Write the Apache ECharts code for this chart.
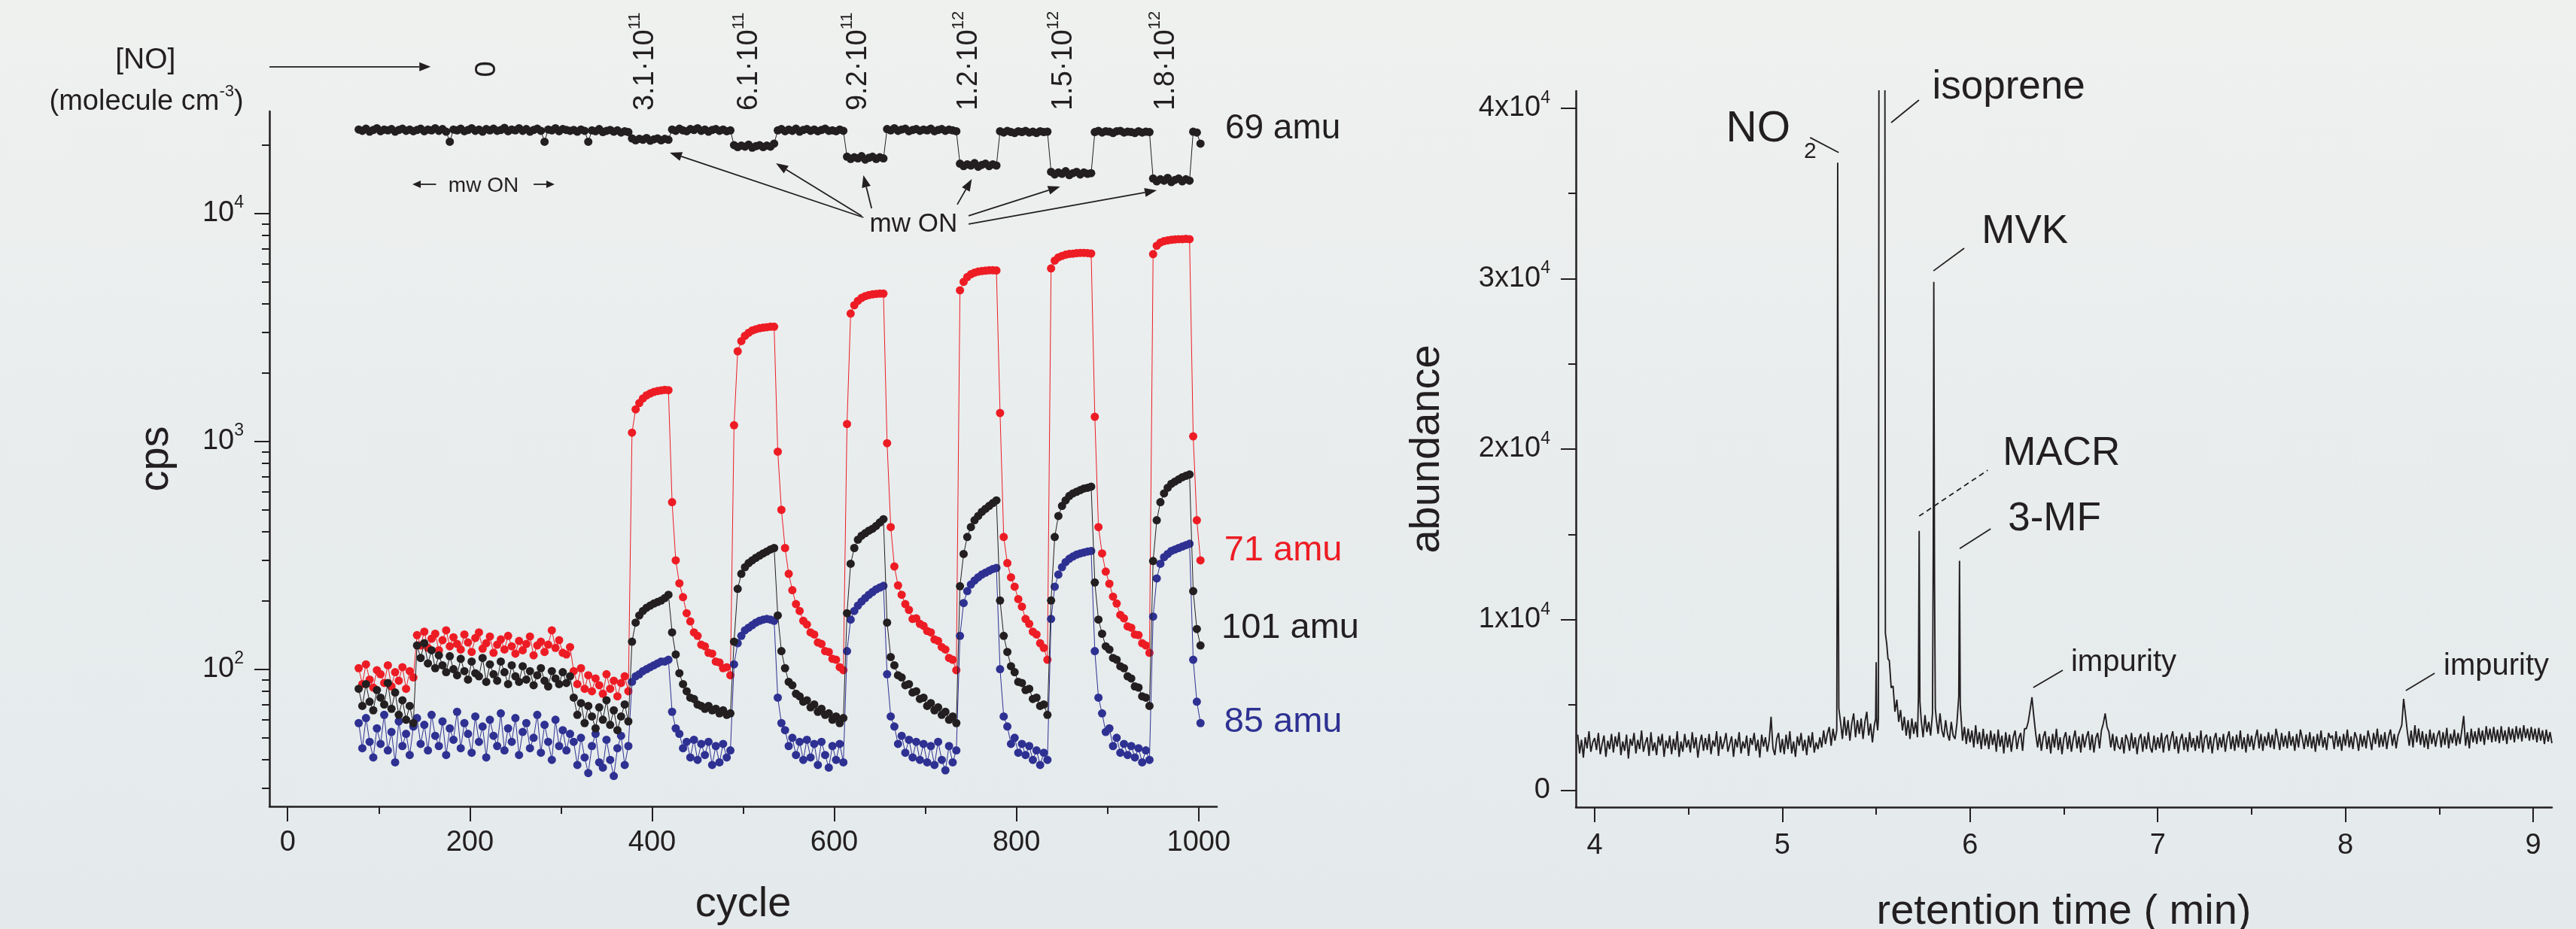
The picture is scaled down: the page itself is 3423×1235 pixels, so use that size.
<!DOCTYPE html>
<html>
<head>
<meta charset="utf-8">
<script src="https://cdn.jsdelivr.net/npm/echarts@6.0.0/dist/echarts.min.js"></script>
<style>
  html, body { margin: 0; padding: 0; }
  #chart { width: 3423px; height: 1235px; }
</style>
</head>
<body>
<div id="chart"></div>
<script>
// ---- left panel: PTR-MS signal vs cycle ----
var cycles = [
  78, 82, 86, 90, 94, 98, 102, 106, 110, 114, 118, 122, 126, 130, 134, 138,
  142, 146, 150, 154, 158, 162, 166, 170, 174, 178, 182, 186, 190, 194, 198, 202, 206, 210, 214, 218, 222,
  226, 230, 234, 238, 242, 246, 250, 254, 258, 262, 266, 270, 274, 278, 282, 286, 290, 294, 298, 302, 306, 310,
  314, 318, 322, 326, 330, 334, 338, 342, 346, 350, 354, 358, 362, 366, 370, 374,
  378, 382, 386, 390, 394, 398, 402, 406, 410, 414, 418,
  422, 426, 430, 434, 438, 442, 446, 450, 454, 458, 462, 466, 470, 474, 478, 482, 486,
  490, 494, 498, 502, 506, 510, 514, 518, 522, 526, 530, 534,
  538, 542, 546, 550, 554, 558, 562, 566, 570, 574, 578, 582, 586, 590, 594, 598, 602, 606, 610,
  614, 618, 622, 626, 630, 634, 638, 642, 646, 650, 654,
  658, 662, 666, 670, 674, 678, 682, 686, 690, 694, 698, 702, 706, 710, 714, 718, 722, 726, 730, 734,
  738, 742, 746, 750, 754, 758, 762, 766, 770, 774, 778,
  782, 786, 790, 794, 798, 802, 806, 810, 814, 818, 822, 826, 830, 834,
  838, 842, 846, 850, 854, 858, 862, 866, 870, 874, 878, 882,
  886, 890, 894, 898, 902, 906, 910, 914, 918, 922, 926, 930, 934, 938, 942, 946,
  950, 954, 958, 962, 966, 970, 974, 978, 982, 986, 990,
  994, 998, 1002
];

var amu69 = [
  23300, 23000, 23500, 22800, 23200, 23600, 22900, 23300, 23100, 23400, 22800, 23200, 23500, 23000, 23300, 22900,
  23200, 23500, 22900, 23300, 23100, 23600, 23000, 23400, 22800, 20600, 23300, 23100, 23500, 22900, 23200, 23600, 23000,
  23300, 22800, 23400, 23100, 23500, 23000, 23200, 23700, 22900, 23300, 23100, 23600, 23000, 23400, 22800, 23200, 23500,
  23000, 20600, 23300, 23100, 23600, 22900, 23400, 23200, 23000,
  23200, 22800, 23300, 23000, 20600, 23100, 22900, 23400, 22700, 23000, 23200, 22800, 23100, 22600, 22900, 22700,
  21300, 20900, 21200, 21000, 21400, 20800, 21100, 21300, 20900, 21200, 21000,
  23300, 23000, 23500, 23100, 22900, 23400, 23200, 23600, 23000, 23300, 22800, 23200, 23400, 23000, 23300, 22900, 23100,
  19900, 19500, 19800, 19600, 20000, 19400, 19700, 19900, 19500, 19800, 19600, 20200,
  23100, 23400, 22900, 23300, 23000, 23500, 22800, 23200, 23400, 23000, 23300, 22900, 23200, 23500, 23000, 23100, 22900, 23300, 23000,
  17700, 17300, 17600, 17400, 17800, 17200, 17500, 17700, 17300, 17600, 17400,
  23400, 23100, 23600, 23000, 23300, 23500, 22900, 23200, 23400, 23000, 23300, 23100, 23500, 22900, 23200, 23400, 23000, 23300, 23100, 22900,
  16500, 16100, 16400, 16200, 16600, 16000, 16300, 16500, 16100, 16400, 16200,
  22900, 22600, 23000, 22700, 22500, 22900, 22700, 23000, 22600, 22800, 22500, 22900, 22700, 22800,
  15200, 14800, 15100, 14900, 15300, 14700, 15000, 15200, 14800, 15100, 14900, 15000,
  22700, 23000, 22600, 22900, 22800, 22500, 22900, 23000, 22600, 22800, 22700, 22500, 22900, 22600, 22800, 22700,
  14200, 13800, 14100, 13900, 14300, 13700, 14000, 14200, 13800, 14100, 13900,
  22800, 22600, 20200
];

var amu71 = [
  101, 86, 105, 90, 83, 99, 95, 87, 104, 84, 97, 89, 102, 82, 98, 92,
  141, 127, 146, 124, 136, 143, 121, 134, 148, 126, 138, 129, 122, 142, 131, 119, 137, 145, 123, 130, 139,
  118, 128, 135, 122, 140, 126, 117, 133, 121, 129, 139, 115, 127, 132, 119, 128, 148, 124, 134, 118, 116, 125,
  98, 86, 101, 82, 94, 80, 91, 85, 78, 95, 82, 89, 76, 87, 93, 80,
  1090, 1380, 1470, 1540, 1590, 1620, 1645, 1660, 1670, 1680, 1675,
  540, 300, 238, 207, 176, 162, 145, 140, 128, 126, 118, 117, 108, 107, 101, 102, 94,
  1175, 2480, 2750, 2900, 2990, 3060, 3100, 3130, 3150, 3165, 3180, 3180,
  900, 500, 340, 262, 222, 193, 180, 163, 157, 145, 142, 131, 129, 120, 119, 111, 110, 102, 99,
  1190, 3630, 3950, 4130, 4250, 4330, 4380, 4410, 4430, 4440, 4440,
  980, 420, 282, 233, 212, 193, 182, 166, 167, 158, 155, 147, 145, 135, 133, 125, 122, 112, 110, 99,
  4590, 5000, 5250, 5400, 5490, 5550, 5580, 5600, 5620, 5620, 5610,
  1330, 380, 292, 253, 230, 203, 188, 166, 158, 146, 142, 130, 124, 110,
  5730, 6200, 6400, 6500, 6580, 6630, 6650, 6680, 6700, 6700, 6690, 6660,
  1280, 420, 322, 268, 237, 208, 194, 173, 167, 154, 152, 142, 141, 130, 127, 118,
  6620, 7200, 7440, 7550, 7600, 7650, 7680, 7700, 7700, 7720, 7700,
  1050, 450, 300
];

var amu101 = [
  82, 69, 86, 72, 66, 81, 75, 70, 87, 67, 79, 63, 73, 60, 69, 58,
  127, 112, 130, 106, 121, 101, 115, 104, 97, 114, 100, 94, 111, 98, 90, 108, 96, 93, 112, 88, 105,
  95, 89, 108, 97, 86, 104, 93, 88, 103, 90, 98, 85, 94, 101, 89, 84, 98, 91, 86, 97, 87, 93,
  75, 63, 71, 58, 69, 62, 55, 68, 60, 73, 57, 66, 54, 62, 70, 59,
  132, 160, 172, 180, 186, 190, 194, 197, 200, 205, 212,
  145, 116, 96, 86, 80, 75, 74, 70, 69, 67, 69, 66, 67, 64, 66, 63, 64,
  132, 225, 262, 280, 292, 300, 308, 315, 322, 328, 335, 340,
  172, 120, 101, 88, 85, 78, 76, 72, 73, 68, 70, 65, 67, 63, 64, 60, 62, 58, 61,
  176, 290, 340, 370, 385, 395, 405, 413, 425, 440, 455,
  160, 113, 104, 94, 92, 85, 86, 79, 80, 74, 75, 69, 71, 66, 68, 63, 65, 60, 62, 58,
  231, 320, 380, 420, 450, 470, 490, 505, 520, 535, 550,
  200, 140, 119, 103, 97, 88, 87, 81, 82, 74, 75, 69, 70, 63,
  200, 380, 470, 520, 550, 575, 590, 600, 610, 620, 625, 632,
  240, 165, 143, 126, 122, 112, 110, 103, 101, 93, 91, 84, 83, 76, 75, 69,
  298, 450, 540, 590, 625, 650, 665, 680, 695, 705, 715,
  220, 150, 127
];

var amu85 = [
  58, 45, 61, 48, 41, 55, 47, 63, 44, 53, 39, 59, 46, 52, 42, 56,
  61, 47, 57, 44, 63, 51, 46, 59, 42, 55, 49, 65, 45, 58, 52, 43, 62, 48, 56, 41, 60,
  51, 46, 64, 44, 55, 48, 61, 42, 53, 58, 45, 50, 63, 43, 57, 48, 40, 60, 46, 54, 44, 52,
  48, 38, 50, 41, 35, 46, 52, 39, 37, 49, 40, 34, 45, 51, 38, 46,
  88, 93, 95, 98, 100, 102, 104, 106, 108, 108, 110,
  65, 55, 52, 45, 48, 41, 49, 40, 47, 42, 48, 38, 46, 39, 47, 41, 44,
  105, 130, 140, 148, 152, 156, 160, 163, 165, 166, 165, 163,
  75, 58, 54, 46, 50, 42, 48, 40, 49, 41, 47, 38, 48, 42, 37, 46, 40, 47, 39,
  120, 165, 180, 190, 198, 205, 212, 218, 224, 228, 232,
  95, 62, 56, 47, 51, 43, 49, 41, 48, 40, 47, 39, 46, 38, 48, 40, 36, 46, 39, 44,
  140, 195, 220, 235, 245, 253, 260, 265, 270, 275, 278,
  100, 62, 56, 47, 50, 43, 47, 42, 46, 40, 44, 38, 43, 40,
  166, 230, 260, 280, 295, 305, 312, 318, 322, 325, 328, 330,
  120, 75, 64, 53, 55, 46, 50, 43, 47, 42, 46, 41, 45, 39, 44, 40,
  170, 250, 290, 310, 320, 330, 335, 340, 345, 350, 355,
  110, 72, 58
];

var cycleTicks = [0, 200, 400, 600, 800, 1000];
var cycleMinor = [100, 300, 500, 700, 900];
var cpsTicks = [100, 1000, 10000];
var cpsMinor = [30, 40, 50, 60, 70, 80, 90, 200, 300, 400, 500, 600, 700, 800, 900,
  2000, 3000, 4000, 5000, 6000, 7000, 8000, 9000, 20000];
var noLevels = [['3.1·10', '11'], ['6.1·10', '11'], ['9.2·10', '11'], ['1.2·10', '12'], ['1.5·10', '12'], ['1.8·10', '12']];

// ---- right panel: GC-MS chromatogram ----
var chromTrace = [
  [3.91,3250],[3.92,2150],[3.93,2950],[3.94,1900],[3.95,3100],[3.96,2450],[3.97,3450],[3.98,2250],[3.99,2800],
  [4.00,3050],[4.01,2350],[4.02,3350],[4.03,2100],[4.04,2700],[4.05,3200],[4.06,1950],[4.07,2900],[4.08,2400],[4.09,3300],
  [4.10,2200],[4.11,3150],[4.12,2550],[4.13,3400],[4.14,2050],[4.15,2850],[4.16,2300],[4.17,3250],[4.18,1850],[4.19,3000],
  [4.20,2600],[4.21,3350],[4.22,2150],[4.23,2950],[4.24,2400],[4.25,3500],[4.26,2250],[4.27,2750],[4.28,3100],[4.29,2000],
  [4.30,3400],[4.31,2300],[4.32,2800],[4.33,2050],[4.34,3150],[4.35,2600],[4.36,3300],[4.37,1950],[4.38,2900],[4.39,2450],
  [4.40,3200],[4.41,2100],[4.42,3000],[4.43,2350],[4.44,3450],[4.45,1950],[4.46,2850],[4.47,2250],[4.48,3300],[4.49,2500],
  [4.50,2950],[4.51,2200],[4.52,3400],[4.53,2450],[4.54,3100],[4.55,1900],[4.56,2750],[4.57,3250],[4.58,2300],[4.59,3050],
  [4.60,2350],[4.61,3300],[4.62,2100],[4.63,2900],[4.64,2550],[4.65,3450],[4.66,2000],[4.67,3150],[4.68,2400],[4.69,2800],
  [4.70,3350],[4.71,2250],[4.72,2700],[4.73,3150],[4.74,1950],[4.75,3000],[4.76,2500],[4.77,3400],[4.78,2150],[4.79,2850],
  [4.80,2450],[4.81,3200],[4.82,2000],[4.83,3050],[4.84,2650],[4.85,3350],[4.86,2300],[4.87,2950],[4.88,1900],[4.89,3250],
  [4.90,2550],[4.91,3100],[4.92,2250],[4.93,2900],[4.94,4300],[4.95,2450],[4.96,2050],[4.97,3000],[4.98,3350],[4.99,2200],
  [5.00,3000],[5.01,2100],[5.02,3250],[5.03,2400],[5.04,3450],[5.05,2150],[5.06,2850],[5.07,1950],[5.08,3150],[5.09,2600],
  [5.10,3350],[5.11,2300],[5.12,2950],[5.13,2050],[5.14,3200],[5.15,2500],[5.16,3400],[5.17,2200],[5.18,2800],[5.19,2400],
  [5.20,3100],[5.21,2500],[5.22,3500],[5.23,2700],[5.24,3300],[5.25,3700],[5.26,2600],[5.27,3600],[5.28,2900],[5.29,3500],
  [5.292,12000],[5.295,36800],[5.298,14000],[5.301,4800],
  [5.31,4000],[5.32,3000],[5.33,4300],[5.34,3200],[5.35,4100],[5.36,2900],[5.37,3900],[5.38,4500],[5.39,3100],
  [5.40,4100],[5.41,3300],[5.42,4200],[5.43,3000],[5.44,4000],[5.45,4600],[5.46,3200],[5.47,3900],[5.48,2800],[5.49,3800],
  [5.497,4200],[5.500,7500],[5.503,4000],[5.508,3500],[5.512,4200],
  [5.516,60000],[5.520,200000],[5.540,200000],[5.545,60000],[5.549,9200],
  [5.556,8600],[5.563,7700],[5.57,7600],[5.58,6000],[5.59,6100],[5.60,4600],[5.61,5300],[5.62,4000],[5.63,4700],[5.64,3500],
  [5.65,4300],[5.66,3200],[5.67,4100],[5.68,3000],[5.69,4200],[5.70,3300],[5.71,4000],[5.72,3100],
  [5.725,5500],[5.729,15200],[5.733,5200],
  [5.74,4100],[5.75,3100],[5.76,4400],[5.77,3400],[5.78,4000],[5.79,3200],
  [5.80,4500],[5.804,14000],[5.807,29800],[5.811,12000],[5.815,4800],
  [5.82,4200],[5.83,3300],[5.84,4500],[5.85,3500],[5.86,3100],[5.87,4100],[5.88,3300],[5.89,2900],[5.90,4000],[5.91,3200],[5.92,3000],[5.93,3900],
  [5.940,5500],[5.944,13450],[5.948,5000],
  [5.955,3800],[5.96,2900],[5.97,3700],[5.98,2700],[5.99,3600],
  [6.00,2800],[6.01,3500],[6.02,2500],[6.03,3800],[6.04,2700],[6.05,3400],[6.06,2400],[6.07,3600],[6.08,2600],[6.09,3300],
  [6.10,2400],[6.11,3500],[6.12,2650],[6.13,3300],[6.14,2250],[6.15,3550],[6.16,2550],[6.17,3200],[6.18,2150],[6.19,3400],
  [6.20,2500],[6.21,3250],[6.22,2250],[6.23,3100],[6.24,3500],[6.25,2400],[6.26,3050],[6.27,3350],[6.28,2300],[6.29,3600],
  [6.30,3600],[6.31,4000],[6.32,4700],[6.33,5450],[6.34,4300],[6.35,3300],[6.36,2500],[6.37,3300],[6.38,2300],[6.39,3100],
  [6.40,3450],[6.41,2400],[6.42,3150],[6.43,2150],[6.44,3300],[6.45,2500],[6.46,3600],[6.47,2350],[6.48,3100],[6.49,2100],
  [6.50,3050],[6.51,3400],[6.52,2400],[6.53,3200],[6.54,2250],[6.55,3000],[6.56,3500],[6.57,2450],[6.58,3150],[6.59,2200],
  [6.60,3300],[6.61,2500],[6.62,3100],[6.63,3450],[6.64,2350],[6.65,3250],[6.66,2200],[6.67,3050],[6.68,3350],[6.69,2450],
  [6.70,3500],[6.71,3900],[6.72,4500],[6.73,3700],[6.74,3400],[6.75,2500],[6.76,3300],[6.77,2300],[6.78,3150],[6.79,2550],
  [6.80,2400],[6.81,3100],[6.82,2150],[6.83,3250],[6.84,2950],[6.85,2300],[6.86,3350],[6.87,2450],[6.88,3100],[6.89,2100],
  [6.90,3000],[6.91,3300],[6.92,2250],[6.93,3150],[6.94,2400],[6.95,3400],[6.96,2500],[6.97,2200],[6.98,3200],[6.99,2350],
  [7.00,3100],[7.01,2450],[7.02,3350],[7.03,2200],[7.04,3050],[7.05,3250],[7.06,2300],[7.07,3000],[7.08,3450],[7.09,2400],
  [7.10,3150],[7.11,2150],[7.12,2950],[7.13,3300],[7.14,2350],[7.15,3100],[7.16,2250],[7.17,3400],[7.18,2500],[7.19,3050],
  [7.20,2300],[7.21,3200],[7.22,2450],[7.23,3500],[7.24,2200],[7.25,3050],[7.26,3250],[7.27,2400],[7.28,3150],[7.29,2150],
  [7.30,3000],[7.31,3350],[7.32,2350],[7.33,3100],[7.34,2500],[7.35,3300],[7.36,2250],[7.37,3050],[7.38,3450],[7.39,2400],
  [7.40,3150],[7.41,2300],[7.42,3250],[7.43,2500],[7.44,3500],[7.45,2400],[7.46,3100],[7.47,2200],[7.48,3300],[7.49,2550],
  [7.50,3200],[7.51,2350],[7.52,3050],[7.53,3550],[7.54,2450],[7.55,3300],[7.56,2300],[7.57,3150],[7.58,2600],[7.59,3400],
  [7.60,2500],[7.61,3250],[7.62,2400],[7.63,3600],[7.64,3050],[7.65,2350],[7.66,3350],[7.67,2550],[7.68,3200],[7.69,2450],
  [7.70,3450],[7.71,2600],[7.72,3150],[7.73,2300],[7.74,3300],[7.75,2500],[7.76,3550],[7.77,3050],[7.78,2400],[7.79,3250],
  [7.80,2550],[7.81,3400],[7.82,2450],[7.83,3150],[7.84,2250],[7.85,3300],[7.86,2600],[7.87,3500],[7.88,2500],[7.89,3100],
  [7.90,2350],[7.91,3350],[7.92,3050],[7.93,3200],[7.94,2400],[7.95,3450],[7.96,2550],[7.97,3150],[7.98,2300],[7.99,3300],
  [8.00,2600],[8.01,3550],[8.02,2500],[8.03,3150],[8.04,2400],[8.05,3400],[8.06,3050],[8.07,2300],[8.08,3300],[8.09,2550],
  [8.10,3200],[8.11,2450],[8.12,3500],[8.13,3000],[8.14,2350],[8.15,3350],[8.16,2700],[8.17,3600],[8.18,2500],[8.19,3250],
  [8.20,2550],[8.21,3400],[8.22,2400],[8.23,3150],[8.24,3550],[8.25,2600],[8.26,3300],[8.27,2450],[8.28,3200],[8.29,3500],
  [8.30,3800],[8.31,5350],[8.32,4400],[8.33,3400],[8.34,2600],[8.35,3500],[8.36,2500],[8.37,3800],[8.38,2800],[8.39,3600],
  [8.40,2650],[8.41,3450],[8.42,2500],[8.43,3300],[8.44,2400],[8.45,3550],[8.46,2700],[8.47,3350],[8.48,2550],[8.49,3200],
  [8.50,3500],[8.51,2500],[8.52,3400],[8.53,2650],[8.54,3650],[8.55,2450],[8.56,3300],[8.57,2750],[8.58,3550],[8.59,2600],
  [8.60,3350],[8.61,2700],[8.62,3500],[8.63,4350],[8.64,2600],[8.65,3400],[8.66,2450],[8.67,3600],[8.68,2800],[8.69,3450],
  [8.70,2700],[8.71,3650],[8.72,2850],[8.73,3500],[8.74,2650],[8.75,3750],[8.76,2950],[8.77,3600],[8.78,2800],[8.79,3700],
  [8.80,2850],[8.81,3550],[8.82,2750],[8.83,3750],[8.84,2900],[8.85,3500],[8.86,2700],[8.87,3700],[8.88,2950],[8.89,3600],
  [8.90,2800],[8.91,3750],[8.92,3000],[8.93,3650],[8.94,2850],[8.95,3800],[8.96,3050],[8.97,3600],[8.98,2900],[8.99,3700],
  [9.00,2950],[9.01,3600],[9.02,2800],[9.03,3650],[9.04,2900],[9.05,3500],[9.06,2700],[9.07,3550],[9.08,2850],[9.09,3400],[9.10,2750]
];

var timeTicks = [4, 5, 6, 7, 8, 9];
var timeMinor = [4.5, 5.5, 6.5, 7.5, 8.5];
var abundTicks = [0, 10000, 20000, 30000, 40000];
var abundMinor = [5000, 15000, 25000, 35000];

var ink = '#231f20';
var red = '#ed1c24';
var blue = '#2e3192';
var FONT = '"Liberation Sans", Arial, Helvetica, sans-serif';

var chart = echarts.init(document.getElementById('chart'));

function pairs(xs, ys) {
  return xs.map(function (x, i) { return [x, ys[i]]; });
}

var supRich = {
  b: { fontSize: 38, lineHeight: 50, fontFamily: FONT, color: ink },
  s: { fontSize: 23, lineHeight: 23, verticalAlign: 'top', fontFamily: FONT, color: ink }
};

function majorAxis(extra) {
  var base = {
    axisLine: { show: true, onZero: false, lineStyle: { color: ink, width: 2.5 } },
    axisTick: { show: true, length: 20, lineStyle: { color: ink, width: 2 } },
    axisLabel: { fontSize: 38, color: ink, fontFamily: FONT },
    splitLine: { show: false },
    nameLocation: 'middle',
    nameMoveOverlap: false,
    nameTextStyle: { fontSize: 56, color: ink, fontFamily: FONT }
  };
  return echarts.util.merge(base, extra, true);
}

function minorAxis(extra) {
  var base = {
    axisLine: { show: false, onZero: false },
    axisTick: { show: true, length: 10, lineStyle: { color: ink, width: 2 } },
    axisLabel: { show: false },
    splitLine: { show: false }
  };
  return echarts.util.merge(base, extra, true);
}

function lineSeries(name, data, color, z) {
  return {
    name: name, type: 'line', xAxisIndex: 0, yAxisIndex: 0,
    data: data, symbol: 'circle', symbolSize: 11, z: z,
    itemStyle: { color: color }, lineStyle: { color: color, width: 1 },
    silent: true
  };
}

var option = {
  animation: false,
  backgroundColor: {
    type: 'linear', x: 0, y: 0, x2: 0, y2: 1,
    colorStops: [{ offset: 0, color: '#eff1ef' }, { offset: 0.55, color: '#e8eced' }, { offset: 1, color: '#e4eaec' }]
  },
  grid: [
    { left: 358, top: 148, width: 1259, height: 924, outerBoundsMode: 'none', containLabel: false },
    { left: 2094, top: 121, width: 1297, height: 952, outerBoundsMode: 'none', containLabel: false }
  ],
  xAxis: [
    majorAxis({
      gridIndex: 0, type: 'value', min: -20, max: 1020, position: 'bottom',
      axisTick: { customValues: cycleTicks },
      axisLabel: { customValues: cycleTicks, margin: 30, formatter: function (v) { return String(v); } },
      name: 'cycle', nameGap: 103
    }),
    minorAxis({ gridIndex: 0, type: 'value', min: -20, max: 1020, position: 'bottom',
      axisTick: { customValues: cycleMinor } }),
    majorAxis({
      gridIndex: 1, type: 'value', min: 3.9, max: 9.1, position: 'bottom',
      axisTick: { customValues: timeTicks },
      axisLabel: { customValues: timeTicks, margin: 33, formatter: function (v) { return String(v); } },
      name: 'retention time ( min)', nameGap: 112
    }),
    minorAxis({ gridIndex: 1, type: 'value', min: 3.9, max: 9.1, position: 'bottom',
      axisTick: { customValues: timeMinor } })
  ],
  yAxis: [
    majorAxis({
      gridIndex: 0, type: 'log', logBase: 10, min: 25, max: 28000, position: 'left',
      axisTick: { customValues: cpsTicks },
      axisLabel: {
        customValues: cpsTicks, margin: 34, rich: supRich,
        formatter: function (v) { return '{b|10}{s|' + Math.round(Math.log10(v)) + '}'; }
      },
      name: 'cps', nameGap: 122
    }),
    minorAxis({ gridIndex: 0, type: 'log', logBase: 10, min: 25, max: 28000, position: 'left',
      axisTick: { customValues: cpsMinor } }),
    majorAxis({
      gridIndex: 1, type: 'value', min: -1000, max: 41000, position: 'left',
      axisTick: { customValues: abundTicks },
      axisLabel: {
        customValues: abundTicks, margin: 34, rich: supRich,
        formatter: function (v) { return v === 0 ? '{b|0}' : '{b|' + (v / 10000) + 'x10}{s|4}'; }
      },
      name: 'abundance', nameGap: 169
    }),
    minorAxis({ gridIndex: 1, type: 'value', min: -1000, max: 41000, position: 'left',
      axisTick: { customValues: abundMinor } })
  ],
  series: [
    lineSeries('71 amu', pairs(cycles, amu71), red, 2),
    lineSeries('85 amu', pairs(cycles, amu85), blue, 3),
    lineSeries('101 amu', pairs(cycles, amu101), ink, 4),
    lineSeries('69 amu', pairs(cycles, amu69), ink, 4),
    {
      name: 'chromatogram', type: 'line', xAxisIndex: 2, yAxisIndex: 2,
      data: chromTrace, showSymbol: false, symbol: 'none', clip: true,
      lineStyle: { color: ink, width: 1.9 }, silent: true
    }
  ]
};

chart.setOption(option);

// ---- annotations, anchored in data coordinates ----
function L(x, y) { return chart.convertToPixel({ xAxisIndex: 0, yAxisIndex: 0 }, [x, y]); }
function R(x, y) { return chart.convertToPixel({ xAxisIndex: 2, yAxisIndex: 2 }, [x, y]); }

function label(p, str, size, opts) {
  opts = opts || {};
  return {
    type: 'text', x: p[0], y: p[1], rotation: opts.rotation || 0, silent: true, z: 100,
    style: {
      text: str, fill: opts.color || ink,
      font: size + 'px ' + FONT,
      align: opts.align || 'center', verticalAlign: opts.vAlign || 'middle',
      rich: opts.rich
    }
  };
}

function segment(p1, p2, dash) {
  return {
    type: 'line', silent: true, z: 100,
    shape: { x1: p1[0], y1: p1[1], x2: p2[0], y2: p2[1] },
    style: { stroke: ink, lineWidth: 1.8, lineDash: dash || null }
  };
}

function arrow(p1, p2, head, half) {
  var dx = p2[0] - p1[0], dy = p2[1] - p1[1];
  var len = Math.sqrt(dx * dx + dy * dy);
  var ux = dx / len, uy = dy / len;
  var bx = p2[0] - ux * head, by = p2[1] - uy * head;
  return [
    segment(p1, [bx, by]),
    {
      type: 'polygon', silent: true, z: 100,
      shape: { points: [p2, [bx - uy * half, by + ux * half], [bx + uy * half, by - ux * half]] },
      style: { fill: ink }
    }
  ];
}

var supText = {
  m: { fontSize: 38, lineHeight: 50, fontFamily: FONT, color: ink },
  s: { fontSize: 22, lineHeight: 22, verticalAlign: 'top', fontFamily: FONT, color: ink }
};

var g = [];
// left panel
g.push(label(L(-156, 47000), '[NO]', 39));
g.push(label(L(-155, 30700), '{m|(molecule cm}{s|-3}{m|)}', 38, { rich: supText }));
g = g.concat(arrow(L(-20, 43900), L(157, 43900), 15, 6));
g.push(label(L(219, 42900), '0', 38, { rotation: Math.PI / 2 }));

var noX = [393, 507, 626, 748, 852, 964];
noLevels.forEach(function (lv, i) {
  g.push(label(L(noX[i], 28200), '{m|' + lv[0] + '}{s|' + lv[1] + '}', 38,
    { rotation: Math.PI / 2, align: 'left', rich: supText }));
});

g.push(label(L(687, 8960), 'mw ON', 35));
g = g.concat(arrow(L(632, 9590), L(419.5, 18450), 16, 6));
g = g.concat(arrow(L(630, 9740), L(536, 16560), 16, 6));
g = g.concat(arrow(L(641, 10500), L(632, 14680), 16, 6));
g = g.concat(arrow(L(735, 10920), L(751, 14130), 16, 6));
g = g.concat(arrow(L(747.5, 9740), L(848, 13100), 16, 6));
g = g.concat(arrow(L(747.5, 8960), L(954, 12610), 16, 6));

g.push(label(L(215, 13200), 'mw ON', 28));
g = g.concat(arrow(L(163, 13400), L(137, 13400), 11, 5));
g = g.concat(arrow(L(270, 13400), L(293, 13400), 11, 5));

g.push(label(L(1029, 23500), '69 amu', 46, { align: 'left' }));
g.push(label(L(1028, 331), '71 amu', 47, { align: 'left', color: red }));
g.push(label(L(1025, 151), '101 amu', 47, { align: 'left' }));
g.push(label(L(1028, 58.5), '85 amu', 47, { align: 'left', color: blue }));

// right panel
g.push(label(R(4.70, 38750), 'NO', 57, { align: 'left' }));
g.push(label(R(5.115, 37420), '2', 30, { align: 'left' }));
g.push(segment(R(5.148, 38270), R(5.300, 37390)));
g.push(label(R(5.798, 41220), 'isoprene', 53, { align: 'left' }));
g.push(segment(R(5.580, 39150), R(5.728, 40470)));
g.push(label(R(6.062, 32750), 'MVK', 53, { align: 'left' }));
g.push(segment(R(5.805, 30450), R(5.969, 31780)));
g.push(label(R(6.174, 19730), 'MACR', 53, { align: 'left' }));
g.push(segment(R(5.729, 16070), R(6.094, 18760), [7, 5]));
g.push(label(R(6.202, 15900), '3-MF', 53, { align: 'left' }));
g.push(segment(R(5.945, 14170), R(6.110, 15320)));
g.push(label(R(6.538, 7470), 'impurity', 40, { align: 'left' }));
g.push(segment(R(6.337, 6015), R(6.494, 7030)));
g.push(label(R(8.523, 7250), 'impurity', 40, { align: 'left' }));
g.push(segment(R(8.322, 5840), R(8.475, 6855)));

chart.setOption({ graphic: g });
</script>
</body>
</html>
